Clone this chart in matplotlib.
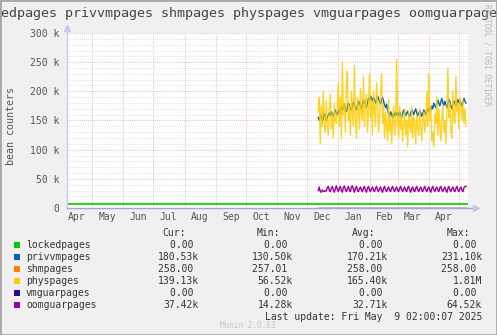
import numpy as np
import pandas as pd
import matplotlib
matplotlib.use('Agg')
from matplotlib import pyplot as plt
import matplotlib.dates as mdates
from matplotlib.patches import Rectangle

### data (values in thousands, daily from 2024-12-12)
privvm = [155,150,158,160,148,153,162,158,150,155,160,163,158,165,160,157,162,168,163,160,
          165,170,162,175,168,172,178,170,165,173,180,175,170,168,176,182,178,172,168,175,183,180,175,170,178,185,180,176,172,180,188,
          185,192,188,183,190,186,180,185,192,188,182,178,185,190,183,176,172,178,168,162,158,165,160,155,162,158,165,160,
          163,158,165,160,155,162,168,164,158,162,166,160,157,163,168,165,160,166,170,163,158,162,167,163,157,162,168,165,160,166,170,
          165,172,168,175,170,180,176,172,178,185,180,175,182,188,180,176,183,178,172,180,186,182,175,170,178,184,180,174,182,186,
          178,184,180,174,182,188,183,180]
phys = [165,190,110,175,140,200,150,130,185,145,125,170,195,135,160,120,180,150,145,175,
        215,140,190,120,250,160,180,130,210,235,150,175,125,200,165,140,245,155,120,190,170,135,205,160,150,225,140,180,195,130,170,
        230,155,185,125,200,170,140,215,180,130,160,195,230,145,175,120,165,140,115,185,130,160,110,150,175,125,145,255,
        150,120,175,135,160,115,145,170,125,150,105,165,140,130,175,120,155,145,110,160,135,125,170,140,115,150,165,130,145,200,140,
        230,150,175,115,130,105,160,145,190,125,170,140,115,155,175,130,150,110,165,240,155,180,130,120,200,150,145,225,165,180,
        135,190,175,150,185,145,170,140]
oomguar = [30,36,28,27,31,29,28,30,29,35,37,30,28,34,37,31,27,33,38,32,
           28,34,37,30,27,35,38,31,28,33,37,30,28,36,38,32,27,34,37,30,28,33,36,31,28,35,37,30,27,34,37,
           31,28,33,36,30,28,34,37,31,28,33,36,30,27,34,37,31,28,33,36,30,28,34,37,31,28,33,36,
           30,28,34,37,31,28,33,36,30,28,35,37,31,27,33,36,30,28,34,37,31,28,33,36,30,28,34,37,31,28,33,
           36,30,27,34,37,31,28,33,36,30,28,35,37,31,28,33,36,30,27,34,37,31,28,33,36,30,28,34,37,31,
           28,33,36,30,28,35,37,37]
shm = 0.258
vmguar = 0.0
locked_level = 6.5

names = ['lockedpages', 'privvmpages', 'shmpages', 'physpages', 'vmguarpages', 'oomguarpages']
colors = ['#00CC00', '#0066B3', '#FF8000', '#FFCC00', '#330099', '#990099']
cur = ['0.00 ', '180.53k', '258.00 ', '139.13k', '0.00 ', '37.42k']
mins = ['0.00 ', '130.50k', '257.01 ', '56.52k', '0.00 ', '14.28k']
avgs = ['0.00 ', '170.21k', '258.00 ', '165.40k', '0.00 ', '32.71k']
maxs = ['0.00 ', '231.10k', '258.00 ', '1.81M', '0.00 ', '64.52k']

W, H = 497, 335
start = pd.Timestamp('2024-04-06')
end = pd.Timestamp('2025-05-10')

def px(x, y):
    return x / W, 1 - y / H

mono = 'DejaVu Sans Mono'
fig = plt.figure(figsize=(W / 100, H / 100), dpi=100, facecolor='#F0F0F0')
ax = fig.add_axes([67 / W, 1 - 208 / H, (468 - 67) / W, (208 - 33) / H])
ax.set_facecolor('white')

d_priv = pd.date_range('2024-12-12', periods=len(privvm))
d_phys = pd.date_range('2024-12-12', periods=len(phys))
d_oom = pd.date_range('2024-12-12', periods=len(oomguar))

ax.plot([start, end], [locked_level * 1e3] * 2, color=colors[0], lw=1.2)
ax.plot(d_priv, np.array(privvm) * 1e3, color=colors[1], lw=1.0)
ax.plot(d_priv, [shm * 1e3] * len(d_priv), color=colors[2], lw=1.0)
ax.plot(d_phys, np.array(phys) * 1e3, color=colors[3], lw=1.0, alpha=0.85)
ax.plot(d_priv, [vmguar] * len(d_priv), color=colors[4], lw=1.0)
ax.plot(d_oom, np.array(oomguar) * 1e3, color=colors[5], lw=1.0)

ax.set_xlim(start, end)
ax.set_ylim(0, 300e3)
ax.xaxis.set_major_locator(mdates.MonthLocator())
ax.xaxis.set_major_formatter(plt.NullFormatter())
ax.xaxis.set_minor_locator(mdates.MonthLocator(bymonthday=16))
ax.xaxis.set_minor_formatter(mdates.DateFormatter('%b'))
ax.set_yticks(np.arange(0, 300001, 50000))
ax.set_yticks(np.arange(0, 300001, 10000), minor=True)
ax.set_yticklabels(['0'] + ['%d k' % v for v in range(50, 301, 50)])
ax.tick_params(which='both', length=0, labelsize=7, labelcolor='#555555', pad=5.5)
ax.tick_params(axis='x', which='minor', pad=3)
for lab in ax.get_xticklabels(minor=True) + ax.get_yticklabels():
    lab.set_family(mono)

ax.grid(True, which='minor', axis='y', color='#D8D8D8', ls=(0, (1, 1.5)), lw=0.6)
ax.grid(True, which='major', color='#F4A0A0', ls=(0, (1, 1.5)), lw=0.6)
ax.set_axisbelow(True)
for s in ax.spines.values():
    s.set_visible(False)

# axes with arrows
ax.plot([0, 0], [0, 1.03], transform=ax.transAxes, color='#C8C8F0', lw=1, clip_on=False)
ax.plot([0, 1.02], [0, 0], transform=ax.transAxes, color='#A8A0E0', lw=1, clip_on=False)
ax.plot([0], [1.03], transform=ax.transAxes, marker='^', ms=4, color='#C8C8F0', clip_on=False)
ax.plot([1.02], [0], transform=ax.transAxes, marker='>', ms=4, color='#C8C8F0', clip_on=False)

fig.text(*px(11, 126), 'bean counters', rotation=90, ha='center', va='center',
         family=mono, fontsize=7.2, color='#555555')
fig.text(*px(-31, 13), ' '.join(names), ha='left', va='center',
         family=mono, fontsize=9.6, color='#444444')
fig.text(*px(487, 4), 'RRDTOOL / TOBI OETIKER', rotation=270, ha='center', va='top',
         family=mono, fontsize=5.6, color='#BBBBBB')

# legend
rows = [245, 257, 269, 281, 293, 305]
cols = [199, 293, 388, 482]
for x, h in zip([186, 280, 375, 470], ['Cur:', 'Min:', 'Avg:', 'Max:']):
    fig.text(*px(x, 233), h, ha='right', va='center', family=mono, fontsize=7, color='#333333')
for i in range(len(names)):
    y = rows[i]
    fig.patches.append(Rectangle(px(14, y + 3), 6 / W, 6 / H, transform=fig.transFigure,
                                 facecolor=colors[i], edgecolor='none'))
    fig.text(*px(26, y), names[i], ha='left', va='center', family=mono, fontsize=7, color='#333333')
    for x, vals in zip(cols, [cur, mins, avgs, maxs]):
        fig.text(*px(x, y), vals[i], ha='right', va='center', family=mono, fontsize=7, color='#333333')
fig.text(*px(482, 317), 'Last update: Fri May  9 02:00:07 2025', ha='right', va='center',
         family=mono, fontsize=7, color='#333333')
fig.text(*px(248, 325), 'Munin 2.0.63', ha='center', va='center',
         family=mono, fontsize=5.5, color='#C8C8C8')

fig.patches.append(Rectangle((0, 0), 1, 1, transform=fig.transFigure, fill=False,
                             edgecolor='#A8A8A8', lw=2))

fig.savefig('out.png', dpi=100, facecolor=fig.get_facecolor())
